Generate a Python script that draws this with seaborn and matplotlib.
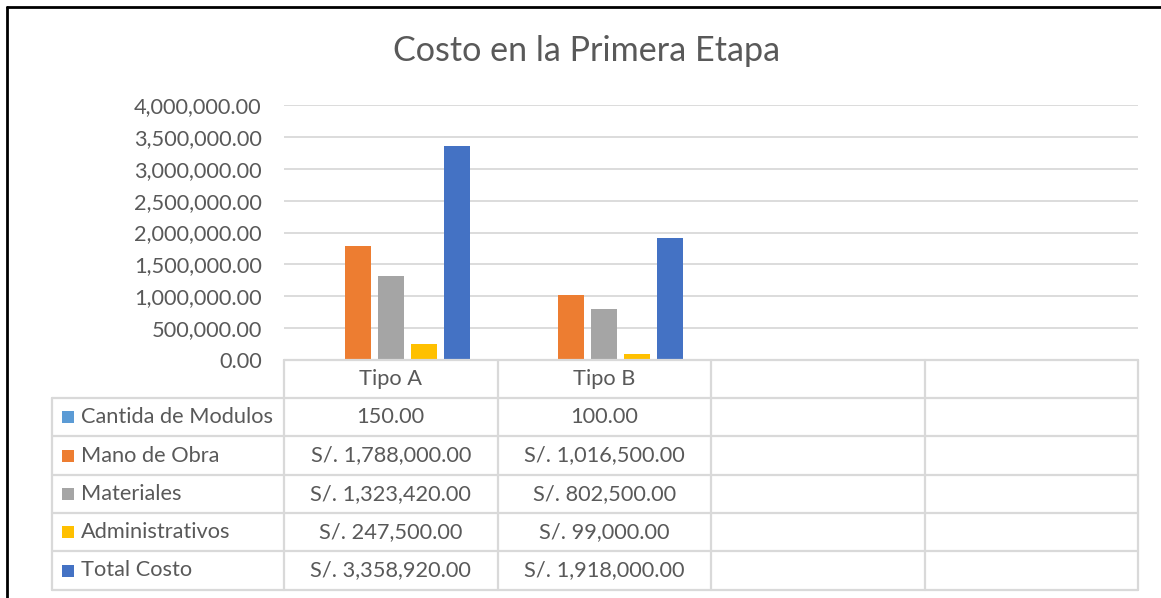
import matplotlib
matplotlib.use("Agg")
import matplotlib.pyplot as plt
from matplotlib.lines import Line2D
from matplotlib.patches import Rectangle
import seaborn as sns
import pandas as pd

# ---- data ----
categories = ["Tipo A", "Tipo B", "", " "]
series = ["Cantida de Modulos", "Mano de Obra", "Materiales", "Administrativos", "Total Costo"]
cantidad = [150.00, 100.00]
mano_obra = [1788000.00, 1016500.00]
materiales = [1323420.00, 802500.00]
administrativos = [247500.00, 99000.00]
total_costo = [3358920.00, 1918000.00]
colors = ["#5B9BD5", "#ED7D31", "#A5A5A5", "#FFC000", "#4472C4"]
yticks = [0, 500000, 1000000, 1500000, 2000000, 2500000, 3000000, 3500000, 4000000]
title = "Costo en la Primera Etapa"

values = [cantidad, mano_obra, materiales, administrativos, total_costo]
rows = []
for s, vals in zip(series, values):
    for c, v in zip(categories, vals):
        rows.append({"cat": c, "serie": s, "valor": v})
df = pd.DataFrame(rows)

sns.set_theme(style="white")
FONT = ["Lato", "DejaVu Sans"]
plt.rcParams["font.family"] = FONT
TXT = "#595959"
GRID = "#D9D9D9"
FS = 15.7

W, H = 1161, 598
fig = plt.figure(figsize=(W / 100, H / 100), dpi=100)

def fx(px):
    return px / W

def fy(py):
    return 1 - py / H

ax_l, ax_r, ax_t, ax_b = 284, 1138, 105, 360
ax = fig.add_axes([fx(ax_l), fy(ax_b), fx(ax_r - ax_l), (ax_b - ax_t) / H])

sns.barplot(data=df, x="cat", y="valor", hue="serie", order=categories,
            hue_order=series, palette=colors, saturation=1, width=0.773, gap=0.21,
            linewidth=0, ax=ax, legend=False, errorbar=None)

ax.set_xlim(-0.5, len(categories) - 0.5)
ax.set_ylim(yticks[0], yticks[-1])
ax.set_yticks(yticks)
ax.set_yticklabels([f"{v:,.2f}" for v in yticks], color=TXT, fontsize=FS)
ax.tick_params(axis="y", length=0, pad=16)
ax.set_xticks([])
ax.set_xlabel("")
ax.set_ylabel("")
for sp in ax.spines.values():
    sp.set_visible(False)
ax.yaxis.grid(True, color=GRID, linewidth=1.3)
ax.set_axisbelow(True)

# title
fig.text(fx(587), fy(51), title, ha="center", va="center", fontsize=24.6, color=TXT)

# ---- data table ----
row_edges = [360, 398, 436, 475, 513, 551, 590]
label_l = 52
col_w = (ax_r - ax_l) / len(categories)
col_edges = [ax_l + i * col_w for i in range(len(categories) + 1)]
TB = "#D9D9D9"

def hline(x0, x1, y):
    fig.add_artist(Line2D([fx(x0), fx(x1)], [fy(y), fy(y)], color=TB, lw=1.6))

def vline(x, y0, y1):
    fig.add_artist(Line2D([fx(x), fx(x)], [fy(y0), fy(y1)], color=TB, lw=1.6))

hline(ax_l, ax_r, row_edges[0])
for y in row_edges[1:]:
    hline(label_l, ax_r, y)
for x in col_edges:
    vline(x, row_edges[0], row_edges[-1])
vline(label_l, row_edges[1], row_edges[-1])

# header
for i, c in enumerate(categories):
    cx = (col_edges[i] + col_edges[i + 1]) / 2
    cy = (row_edges[0] + row_edges[1]) / 2
    fig.text(fx(cx), fy(cy), c, ha="center", va="center", fontsize=FS, color=TXT)

# rows
for r, (s, vals, col) in enumerate(zip(series, values, colors)):
    y0, y1 = row_edges[r + 1], row_edges[r + 2]
    cy = (y0 + y1) / 2
    fig.add_artist(Rectangle((fx(62), fy(cy + 6)), fx(12), 12 / H, color=col, lw=0))
    fig.text(fx(81), fy(cy), s, ha="left", va="center", fontsize=FS, color=TXT)
    for i, v in enumerate(vals):
        cx = (col_edges[i] + col_edges[i + 1]) / 2
        txt = f"{v:,.2f}" if r == 0 else f"S/. {v:,.2f}"
        fig.text(fx(cx), fy(cy), txt, ha="center", va="center", fontsize=FS, color=TXT)

# outer black border (left and top)
fig.add_artist(Line2D([fx(7), fx(7)], [fy(7), 0], color="black", lw=2))
fig.add_artist(Line2D([fx(7), 1], [fy(7), fy(7)], color="black", lw=2))

fig.savefig("out.png", dpi=100)
